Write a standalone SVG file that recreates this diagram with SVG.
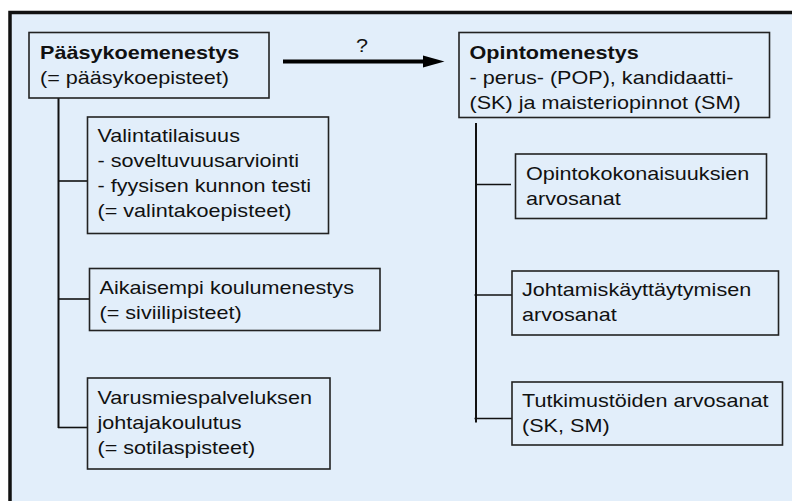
<svg xmlns="http://www.w3.org/2000/svg" width="792" height="501" viewBox="0 0 792 501">
<style>
.frame{fill:#E2EEFA;stroke:#111;stroke-width:3.5}
.box{fill:#E2EEFA;stroke:#222;stroke-width:1.6}
.t{font-family:"Liberation Sans",Arial,sans-serif;font-size:18px;fill:#111}
.b{font-weight:bold}
.c{stroke:#111;stroke-width:2;fill:none}
.c1{stroke:#111;stroke-width:1.6;fill:none}
</style>
<rect width="792" height="501" fill="#fff"/>
<rect class="frame" x="10" y="12.5" width="800" height="500"/>
<g id="connectors">
<line class="c" x1="58.5" y1="98" x2="58.5" y2="428"/>
<line class="c1" x1="58" y1="181" x2="87" y2="181"/>
<line class="c1" x1="58" y1="299" x2="89" y2="299"/>
<line class="c1" x1="58" y1="427.5" x2="87" y2="427.5"/>
<line class="c" x1="476" y1="123" x2="476" y2="422.5"/>
<line class="c1" x1="475" y1="184.5" x2="511" y2="184.5"/>
<line class="c1" x1="474.5" y1="295" x2="512" y2="295"/>
<line class="c1" x1="474.5" y1="418.5" x2="512" y2="418.5"/>
<line x1="283" y1="61.5" x2="425" y2="61.5" stroke="#000" stroke-width="4"/>
<polygon points="423,55.5 444.5,61.5 423,67.5" fill="#000"/>
<text class="t" text-anchor="middle" transform="translate(362 0) scale(1.2 1)" x="0" y="52.5">?</text>
</g>
<g id="paasykoemenestys">
<rect class="box" x="29" y="32.5" width="240" height="65.5"/>
<text class="t" transform="translate(40 0) scale(1.2 1)"><tspan class="b" x="0" y="59">Pääsykoemenestys</tspan><tspan x="0" y="84">(= pääsykoepisteet)</tspan></text>
</g>
<g id="valintatilaisuus">
<rect class="box" x="87.5" y="117" width="241" height="116.5"/>
<text class="t" transform="translate(97.5 0) scale(1.2 1)"><tspan x="0" y="142.5">Valintatilaisuus</tspan><tspan x="0" y="167.5">- soveltuvuusarviointi</tspan><tspan x="0" y="192.5">- fyysisen kunnon testi</tspan><tspan x="0" y="217.5">(= valintakoepisteet)</tspan></text>
</g>
<g id="aikaisempi">
<rect class="box" x="89.5" y="268.5" width="290.5" height="62"/>
<text class="t" transform="translate(99.5 0) scale(1.2 1)"><tspan x="0" y="294.5">Aikaisempi koulumenestys</tspan><tspan x="0" y="319.5">(= siviilipisteet)</tspan></text>
</g>
<g id="varusmies">
<rect class="box" x="87.5" y="378" width="242.5" height="91"/>
<text class="t" transform="translate(97.5 0) scale(1.2 1)"><tspan x="0" y="404">Varusmiespalveluksen</tspan><tspan x="0" y="429">johtajakoulutus</tspan><tspan x="0" y="454">(= sotilaspisteet)</tspan></text>
</g>
<g id="opintomenestys">
<rect class="box" x="459" y="32.5" width="310.5" height="85"/>
<text class="t" transform="translate(469.5 0) scale(1.2 1)"><tspan class="b" x="0" y="59">Opintomenestys</tspan><tspan x="0" y="84">- perus- (POP), kandidaatti-</tspan><tspan x="0" y="109">(SK) ja maisteriopinnot (SM)</tspan></text>
</g>
<g id="opintokokonaisuuksien">
<rect class="box" x="515.5" y="154" width="251" height="64.5"/>
<text class="t" transform="translate(526 0) scale(1.2 1)"><tspan x="0" y="180">Opintokokonaisuuksien</tspan><tspan x="0" y="205">arvosanat</tspan></text>
</g>
<g id="johtamiskayttaytyminen">
<rect class="box" x="512" y="271" width="266.5" height="64"/>
<text class="t" transform="translate(522 0) scale(1.2 1)"><tspan x="0" y="296">Johtamiskäyttäytymisen</tspan><tspan x="0" y="321">arvosanat</tspan></text>
</g>
<g id="tutkimustoiden">
<rect class="box" x="512" y="382" width="270.5" height="63"/>
<text class="t" transform="translate(522 0) scale(1.2 1)"><tspan x="0" y="407">Tutkimustöiden arvosanat</tspan><tspan x="0" y="432">(SK, SM)</tspan></text>
</g>
</svg>
